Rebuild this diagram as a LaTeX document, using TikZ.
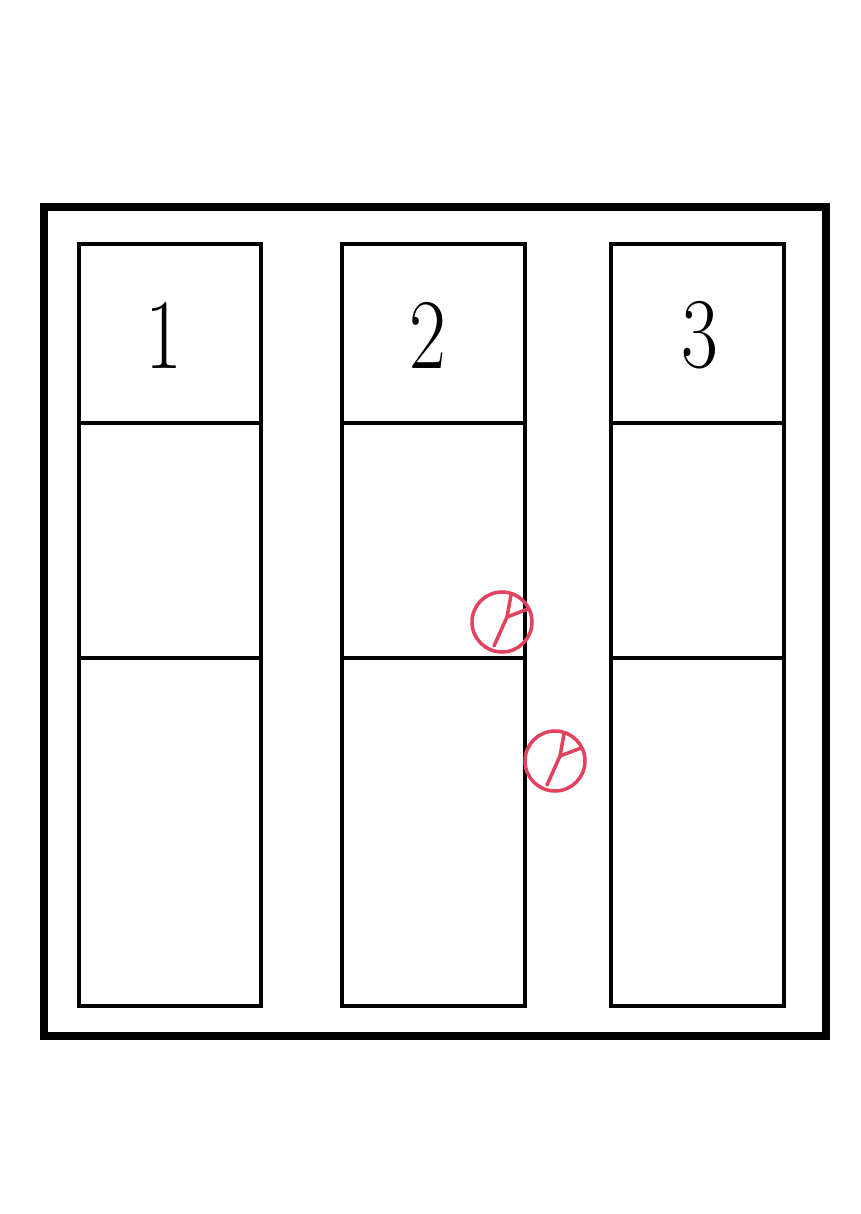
\documentclass[tikz,border=0pt]{standalone}
\usepackage{tikz}
\definecolor{markred}{RGB}{226,66,94}
\tikzset{
  outer/.style={line width=5pt},
  col/.style={line width=2.2pt},
  redmark/.style={draw=markred, line width=2pt},
  valve/.pic={
    \draw[redmark] (0,0) circle (0.6cm);
    \draw[redmark, line cap=round] (-8,24) -- (5,-5) -- (9,-27);
    \draw[redmark, line cap=round] (5,-5) -- (26,-13);
  },
  every node/.style={font=\fontsize{57}{57}\selectfont}
}
\begin{document}
\begin{tikzpicture}[x=0.02cm, y=-0.02cm]
      \useasboundingbox (0,0) rectangle (860,1214);

      \draw[outer] (44,207) rectangle (826,1036);

      \foreach \xl/\xr/\xt/\lab/\n in {79/261/164/1/a, 342/525/428/2/b, 611/784/700/3/c} {
        \draw[col] (\xl,244) rectangle (\xr,1006);
        \draw[col] (\xl,423) -- (\xr,423);
        \draw[col] (\xl,658) -- (\xr,658);
        \node[xscale=0.8] (lab\n) at (\xt,335) {\lab};
      }

      \pic at (502,622) {valve};
      \pic at (555,761) {valve};
    \end{tikzpicture}
\end{document}
